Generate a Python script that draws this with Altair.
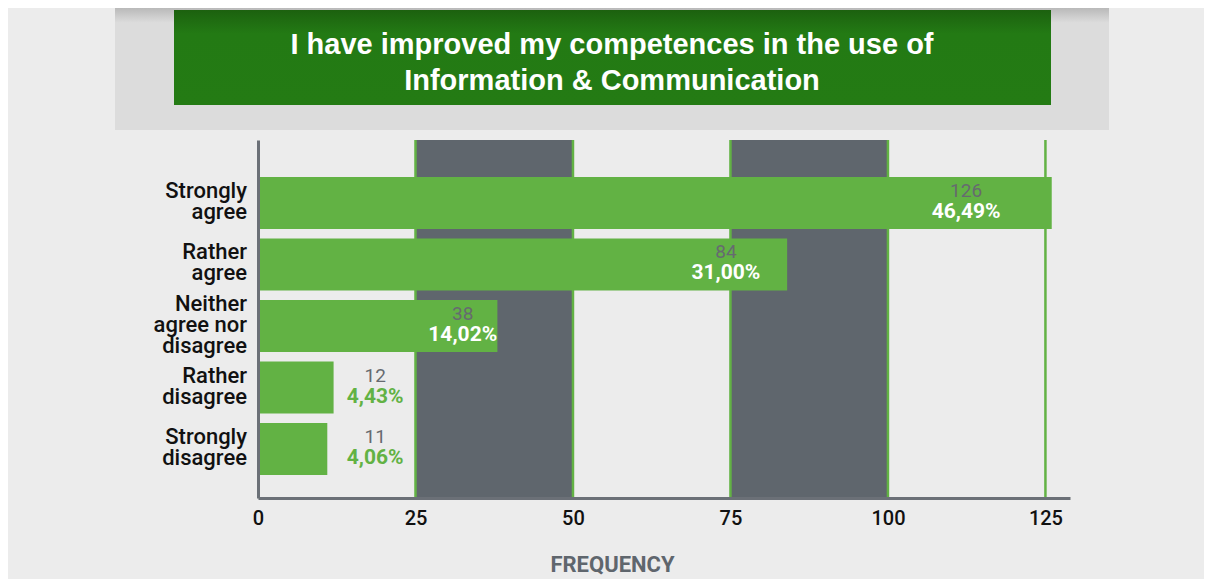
import altair as alt
import pandas as pd

# ---- data ----
categories = ["Strongly agree", "Rather agree", "Neither agree nor disagree",
              "Rather disagree", "Strongly disagree"]
category_lines = [["Strongly", "agree"], ["Rather", "agree"],
                  ["Neither", "agree nor", "disagree"],
                  ["Rather", "disagree"], ["Strongly", "disagree"]]
counts = [126, 84, 38, 12, 11]
percents = ["46,49%", "31,00%", "14,02%", "4,43%", "4,06%"]
band_starts = [25, 75]
band_ends = [50, 100]
tick_values = [0, 25, 50, 75, 100, 125]
title_lines = ["I have improved my competences in the use of",
               "Information & Communication"]
x_title = "FREQUENCY"

df = pd.DataFrame({"category": categories, "count": counts, "pct": percents})
lab = alt.Data(values=[{"category": c, "lines": l, "n": len(l)}
                       for c, l in zip(categories, category_lines)])
bands = pd.DataFrame({"start": band_starts, "end": band_ends})
grid = pd.DataFrame({"tick": [t for t in tick_values if t > 0]})
one = pd.DataFrame({"k": [0]})

W, H = 812, 358
GREEN = "#62b244"
DARK = "#5f666d"
AXIS = "#6b7077"

xscale = alt.Scale(domain=[0, 128.9], nice=False, zero=True)
xaxis = alt.Axis(values=tick_values, grid=False,
                 domainColor=AXIS, domainWidth=3, ticks=False,
                 labelFont="Roboto", labelFontSize=20, labelFontWeight=500,
                 labelColor="#111111", labelPadding=10, labelFlush=False,
                 title=x_title, titleFont="Roboto", titleFontSize=22,
                 titleFontWeight="bold", titleColor=DARK,
                 titleX=354, titleY=66, titleAlign="center",
                 titleBaseline="middle", zindex=1)
yscale = alt.Scale(domain=categories, paddingInner=0.154, paddingOuter=0.487,
                   align=0.617)
yaxis = alt.Axis(title=None, ticks=False, labels=False, domainColor=AXIS,
                 domainWidth=3, zindex=2, grid=False)

# decorative header band
header_band = alt.Chart(one).mark_rect(
    color=alt.Gradient(gradient="linear", x1=0, x2=0, y1=0, y2=1,
                       stops=[alt.GradientStop(color="#b9b9b9", offset=0),
                              alt.GradientStop(color="#dcdcdc", offset=0.12),
                              alt.GradientStop(color="#dcdcdc", offset=1)])
).encode(x=alt.value(-143), x2=alt.value(851), y=alt.value(-132), y2=alt.value(-10))

header_box = alt.Chart(one).mark_rect(
    color=alt.Gradient(gradient="linear", x1=0, x2=0, y1=0, y2=1,
                       stops=[alt.GradientStop(color="#1c610f", offset=0),
                              alt.GradientStop(color="#237a14", offset=0.25),
                              alt.GradientStop(color="#247b14", offset=1)])
).encode(x=alt.value(-84), x2=alt.value(793), y=alt.value(-130), y2=alt.value(-35))

header_text = alt.Chart(one).mark_text(
    text=title_lines, font="Liberation Sans", fontSize=29, fontWeight="bold",
    color="white", lineHeight=36, align="center", baseline="alphabetic"
).encode(x=alt.value(354), y=alt.value(-86))

band_layer = alt.Chart(bands).mark_rect(color=DARK).encode(
    x=alt.X("start:Q", scale=xscale, axis=xaxis),
    x2="end:Q",
    y=alt.value(0), y2=alt.value(H),
)

grid_layer = alt.Chart(grid).mark_rule(color=GREEN, strokeWidth=2.5).encode(
    x=alt.X("tick:Q", scale=xscale, axis=xaxis),
    y=alt.value(0), y2=alt.value(H),
)

bars = alt.Chart(df).mark_bar(color=GREEN, cornerRadius=0).encode(
    x=alt.X("count:Q", scale=xscale, axis=xaxis),
    y=alt.Y("category:N", scale=yscale, axis=yaxis, sort=categories),
)


def ylabel_layer(n, dy):
    return alt.Chart(lab).transform_filter(f"datum.n == {n}").mark_text(
        font="Roboto", fontSize=22, fontWeight=500, color="#111111",
        align="right", baseline="middle", lineHeight=21, dy=dy
    ).encode(
        x=alt.value(-11),
        y=alt.Y("category:N", scale=yscale, axis=yaxis, sort=categories),
        text="lines:N",
    )


ylabels2 = ylabel_layer(2, -12)
ylabels3 = ylabel_layer(3, -22)

label_base = alt.Chart(df).transform_calculate(
    lx="datum.count >= 25 ? datum.count * 0.908 - 2 : 18.6"
)

count_text = label_base.mark_text(
    font="Roboto", fontSize=19, color="#666a70", align="center",
    baseline="middle", dy=-12
).encode(
    x=alt.X("lx:Q", scale=xscale, axis=xaxis),
    y=alt.Y("category:N", scale=yscale, axis=yaxis, sort=categories),
    text="count:Q",
)

pct_text = label_base.mark_text(
    font="Roboto", fontSize=21, fontWeight="bold", align="center",
    baseline="middle", dy=9
).encode(
    x=alt.X("lx:Q", scale=xscale, axis=xaxis),
    y=alt.Y("category:N", scale=yscale, axis=yaxis, sort=categories),
    text="pct:N",
    color=alt.condition("datum.count >= 25", alt.value("white"), alt.value(GREEN)),
)

chart = alt.layer(
    header_band, header_box, header_text, band_layer, grid_layer, bars,
    ylabels2, ylabels3, count_text, pct_text
).properties(
    width=W, height=H,
    padding={"left": 250, "top": 132, "right": 134, "bottom": 81},
    autosize=alt.AutoSizeParams(type="none"),
).configure(background="#ececec").configure_view(stroke=None)

chart.save("out.html", embed_options={"renderer": "svg", "actions": False})
